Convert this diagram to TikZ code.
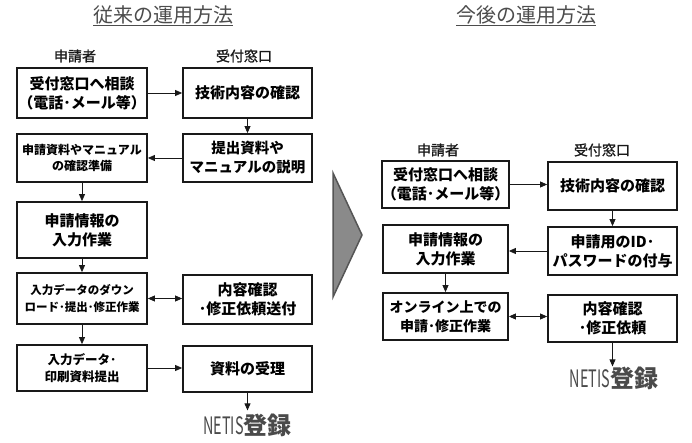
\documentclass[tikz,border=0pt]{standalone}
\usepackage{fontspec}
\setmainfont{Noto Sans CJK JP}
\newfontfamily\labfont{Noto Sans CJK JP}[FakeBold=1.2]
\usetikzlibrary{arrows.meta}
\definecolor{arrowgray}{HTML}{8A8A8A}
\definecolor{arrowedge}{HTML}{555555}
\definecolor{netis}{HTML}{4A4A4A}
\begin{document}
\begin{tikzpicture}[x=1pt,y=-1pt,
  box/.style={draw=black!90,line width=1.8pt,align=center,inner sep=0pt,
    font=\bfseries\fontsize{15}{19}\selectfont},
  smallbox/.style={box,font=\bfseries\fontsize{12}{16}\selectfont},
  conn/.style={draw=black!90,line width=0.8pt,-{Triangle[length=7pt,width=6pt]}},
  biconn/.style={draw=black!90,line width=0.8pt,{Triangle[length=7pt,width=6pt]}-{Triangle[length=7pt,width=6pt]}},
  lab/.style={font=\labfont\fontsize{14}{16}\selectfont,inner sep=0pt,text=black!90},
  ttl/.style={font=\fontsize{20}{24}\selectfont,text=black!70,inner sep=0pt},
  netisnode/.style={text=netis,inner sep=0pt,font=\fontsize{24}{26}\selectfont}
]
\useasboundingbox (0,0) rectangle (692,443);

% titles
\node[ttl] (t1) at (163,16) {\underline{従来の運用方法}};
\node[ttl] (t2) at (526,16) {\underline{今後の運用方法}};

% ---------- left ----------
\node[lab] (h1) at (75,56) {申請者};
\node[lab] (h2) at (244,56) {受付窓口};

\node[box,minimum width=130pt,minimum height=50pt] (l1) at (82,93) {受付窓口へ相談\\（電話･メール等）};
\node[box,minimum width=129pt,minimum height=50pt] (r1) at (247.5,93) {技術内容の確認};
\node[smallbox,minimum width=130pt,minimum height=48pt] (l2) at (82,158) {申請資料やマニュアル\\の確認準備};
\node[box,font=\bfseries\fontsize{14.5}{19}\selectfont,minimum width=129pt,minimum height=48pt] (r2) at (247.5,158) {提出資料や\\マニュアルの説明};
\node[box,minimum width=130pt,minimum height=56pt] (l3) at (82,230) {申請情報の\\入力作業};
\node[smallbox,font=\bfseries\fontsize{11.5}{17}\selectfont,minimum width=130pt,minimum height=51pt] (l4) at (82,298.5) {入力データのダウン\\ロード･提出･修正作業};
\node[box,minimum width=129pt,minimum height=49pt] (r4) at (247.5,299.5) {内容確認\\･修正依頼送付};
\node[smallbox,font=\bfseries\fontsize{12.5}{17}\selectfont,minimum width=130pt,minimum height=46pt] (l5) at (82,368) {入力データ･\\印刷資料提出};
\node[box,minimum width=129pt,minimum height=46pt] (r5) at (247.5,369) {資料の受理};
\node[netisnode] (n1) at (247.5,425) {\scalebox{0.6}[1]{NETIS}\textbf{登録}};

\draw[conn] (l1.east) -- (l1.east -| r1.west);
\draw[conn] (r1.south) -- (r2.north);
\draw[conn] (r2.west) -- (r2.west -| l2.east);
\draw[conn] (l2.south) -- (l3.north);
\draw[conn] (l3.south) -- (l4.north);
\draw[biconn] (l4.east) -- (l4.east -| r4.west);
\draw[conn] (l4.south) -- (l5.north);
\draw[conn] (l5.east) -- (l5.east -| r5.west);
\draw[conn] (r5.south) -- ([yshift=3pt]n1.north);

% ---------- chevron ----------
\filldraw[fill=arrowgray,draw=arrowedge,line width=1.5pt,line join=miter]
  (333,173) -- (362,235) -- (333,297) -- cycle;

% ---------- right ----------
\node[lab] (h3) at (438,150) {申請者};
\node[lab] (h4) at (602,150) {受付窓口};

\node[box,minimum width=125pt,minimum height=47pt] (a) at (445.5,184.5) {受付窓口へ相談\\（電話･メール等）};
\node[box,minimum width=129pt,minimum height=48pt] (b) at (612.5,186) {技術内容の確認};
\node[box,minimum width=129pt,minimum height=48pt] (c) at (612.5,251) {申請用のID･\\パスワードの付与};
\node[box,minimum width=125pt,minimum height=48pt] (d) at (445.5,249) {申請情報の\\入力作業};
\node[box,font=\bfseries\fontsize{14}{19}\selectfont,minimum width=125pt,minimum height=47pt] (e) at (445.5,316.5) {オンライン上での\\申請･修正作業};
\node[box,minimum width=129pt,minimum height=47pt] (f) at (612.5,318.5) {内容確認\\･修正依頼};
\node[netisnode] (n2) at (614,378) {\scalebox{0.6}[1]{NETIS}\textbf{登録}};

\draw[conn] (a.east) -- (a.east -| b.west);
\draw[conn] (b.south) -- (c.north);
\draw[conn] (c.west) -- (c.west -| d.east);
\draw[conn] (d.south) -- (e.north);
\draw[biconn] (e.east) -- (e.east -| f.west);
\draw[conn] (f.south) -- (f.south |- n2.north);
\end{tikzpicture}
\end{document}
